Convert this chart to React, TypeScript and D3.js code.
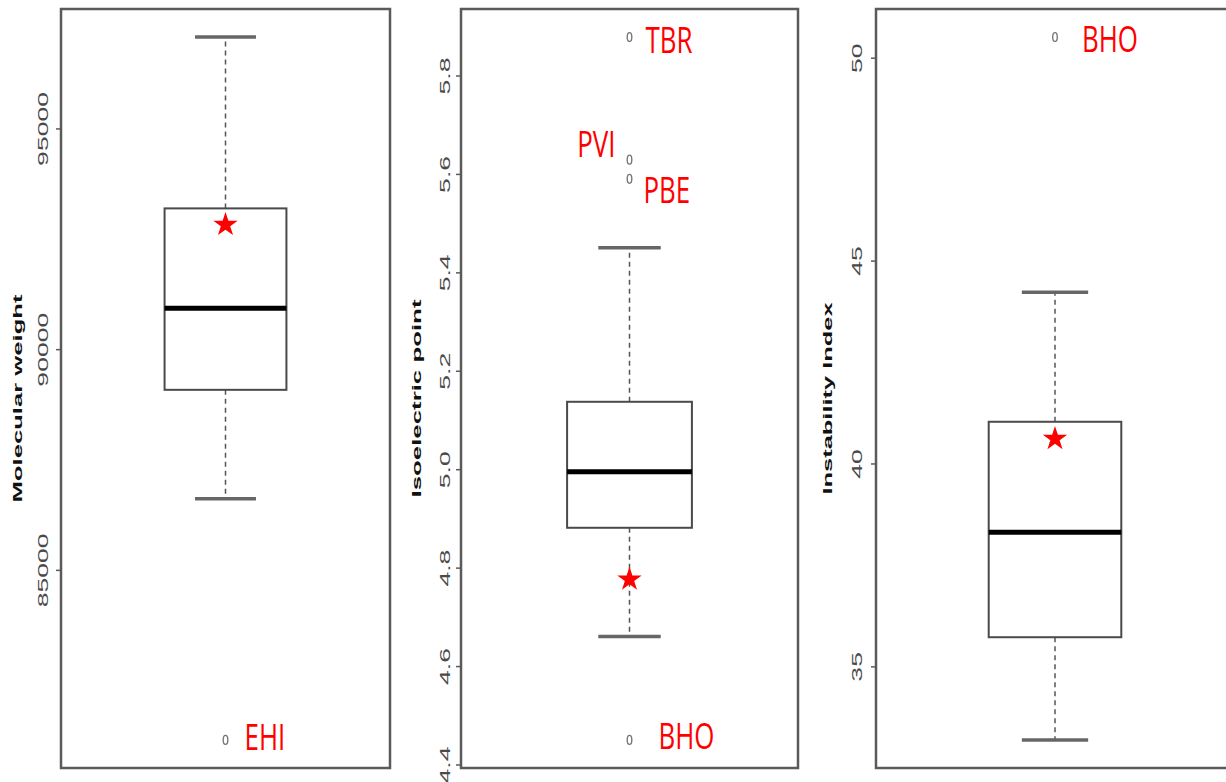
import React from "react";
import * as d3 from "d3";

// ---------- data ----------
const axisTitles = ["Molecular weight", "Isoelectric point", "Instability Index"];
const lowerWhiskers = [86625, 4.661, 33.2];
const lowerQuartiles = [89090, 4.882, 35.73];
const medians = [90940, 4.996, 38.32];
const upperQuartiles = [93200, 5.138, 41.04];
const upperWhiskers = [97080, 5.451, 44.23];
const starValues = [92830, 4.777, 40.62];
const outlierValues = [[81160], [5.879, 5.63, 5.591, 4.451], [50.52]];
const outlierNames = [["EHI"], ["TBR", "PVI", "PBE", "BHO"], ["BHO"]];
const tickValues = [
  [85000, 90000, 95000],
  [4.4, 4.6, 4.8, 5.0, 5.2, 5.4, 5.6, 5.8],
  [35, 40, 45, 50],
];
const tickFormats = ["d", ".1f", "d"];

// ---------- layout ----------
const W = 1226;
const H = 782;
const plotTop = 9;
const plotBottom = 768;
const panelLeft = [61, 461, 876];
const panelRight = [390, 798, 1234];
const titleX = [22, 421, 832];
const tickLabelX = [48, 450, 862];
// label placement relative to its outlier point: [dx, dy, anchor]
const labelPlacement: [number, number, string][][] = [
  [[19, 10, "start"]],
  [
    [16, 16, "start"],
    [-14, -3, "end"],
    [14, 24, "start"],
    [29, 9, "start"],
  ],
  [[27, 15, "start"]],
];

const starPath = d3.symbol().type(d3.symbolStar).size(185)() as string;

function Panel({ i }: { i: number }) {
  const all = [lowerWhiskers[i], upperWhiskers[i], ...outlierValues[i]];
  const lo = d3.min(all) as number;
  const hi = d3.max(all) as number;
  const pad = (hi - lo) * 0.04;
  const y = d3.scaleLinear().domain([lo - pad, hi + pad]).range([plotBottom, plotTop]);
  const x = d3.scaleLinear().domain([0.46, 1.54]).range([panelLeft[i], panelRight[i]]);
  const cx = x(1);
  const fmt = d3.format(tickFormats[i]);
  const frameColor = "#5a5a5a";
  const midY = (plotTop + plotBottom) / 2 + 10;

  return (
    <g>
      {/* frame */}
      <rect
        x={panelLeft[i]}
        y={plotTop}
        width={panelRight[i] - panelLeft[i]}
        height={plotBottom - plotTop}
        fill="none"
        stroke={frameColor}
        strokeWidth={2.5}
      />
      {/* axis ticks and labels */}
      {tickValues[i].map((t) => (
        <g key={t}>
          <line x1={panelLeft[i] - 5} x2={panelLeft[i]} y1={y(t)} y2={y(t)} stroke={frameColor} strokeWidth={1.5} />
          <text
            transform={`translate(${tickLabelX[i]},${y(t)}) rotate(-90) scale(1.9,1)`}
            textAnchor="middle"
            fontFamily="Liberation Sans, Arial, sans-serif"
            fontSize={14}
            fill="#4a4a4a"
          >
            {fmt(t)}
          </text>
        </g>
      ))}
      {/* axis title */}
      <text
        transform={`translate(${titleX[i]},${midY}) rotate(-90)`}
        textAnchor="middle"
        fontFamily="Liberation Sans, Arial, sans-serif"
        fontWeight="bold"
        fontSize={12.5}
        fill="#111"
        textLength={[208, 198, 192][i]}
        lengthAdjust="spacingAndGlyphs"
      >
        {axisTitles[i]}
      </text>
      {/* whiskers */}
      <line x1={cx} x2={cx} y1={y(upperQuartiles[i])} y2={y(upperWhiskers[i])} stroke="#555" strokeWidth={1.5} strokeDasharray="5,4" />
      <line x1={cx} x2={cx} y1={y(lowerQuartiles[i])} y2={y(lowerWhiskers[i])} stroke="#555" strokeWidth={1.5} strokeDasharray="5,4" />
      <line x1={x(0.9)} x2={x(1.1)} y1={y(upperWhiskers[i])} y2={y(upperWhiskers[i])} stroke="#666" strokeWidth={3.5} />
      <line x1={x(0.9)} x2={x(1.1)} y1={y(lowerWhiskers[i])} y2={y(lowerWhiskers[i])} stroke="#666" strokeWidth={3.5} />
      {/* box */}
      <rect
        x={x(0.8)}
        y={y(upperQuartiles[i])}
        width={x(1.2) - x(0.8)}
        height={y(lowerQuartiles[i]) - y(upperQuartiles[i])}
        fill="#fff"
        stroke="#4a4a4a"
        strokeWidth={2}
      />
      <line x1={x(0.8)} x2={x(1.2)} y1={y(medians[i])} y2={y(medians[i])} stroke="#000" strokeWidth={5} />
      {/* outliers */}
      {outlierValues[i].map((v, k) => {
        const [dx, dy, anchor] = labelPlacement[i][k];
        const oy = y(v);
        return (
          <g key={k}>
            <ellipse cx={cx} cy={oy} rx={2.3} ry={4.5} fill="none" stroke="#777" strokeWidth={1.4} />
            <text
              transform={`translate(${cx + dx},${oy + dy}) scale(0.72,1)`}
              textAnchor={anchor}
              fontFamily="Open Sans, sans-serif"
              fontSize={36}
              fill="#ff0000"
            >
              {outlierNames[i][k]}
            </text>
          </g>
        );
      })}
      {/* star marker */}
      <path d={starPath} transform={`translate(${cx},${y(starValues[i])})`} fill="#ff0000" />
    </g>
  );
}

export default function App() {
  return (
    <svg
      width={W}
      height={H}
      style={{ position: "fixed", left: 0, top: 0, background: "#fff" }}
    >
      <rect width={W} height={H} fill="#fff" />
      {axisTitles.map((_, i) => (
        <Panel key={i} i={i} />
      ))}
    </svg>
  );
}
